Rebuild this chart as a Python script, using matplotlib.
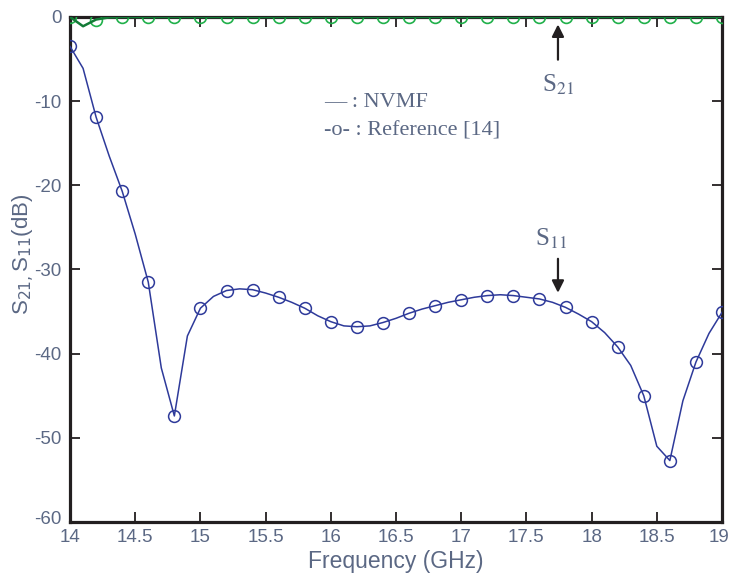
import matplotlib
matplotlib.use("Agg")
import matplotlib.pyplot as plt
import matplotlib.transforms as mtransforms
from matplotlib import font_manager

# Data
freq_ref = [14.0, 14.2, 14.4, 14.6, 14.8, 15.0, 15.2, 15.4, 15.6, 15.8, 16.0, 16.2, 16.4,
            16.6, 16.8, 17.0, 17.2, 17.4, 17.6, 17.8, 18.0, 18.2, 18.4, 18.6, 18.8, 19.0]
s11_ref = [-3.5, -11.9, -20.7, -31.5, -47.4, -34.6, -32.5, -32.4, -33.3, -34.6, -36.2, -36.8, -36.3,
           -35.2, -34.3, -33.6, -33.1, -33.1, -33.5, -34.5, -36.2, -39.2, -45.0, -52.7, -41.0, -35.1]
s21_ref = [0.0, -0.35, 0, 0, 0, 0, 0, 0, 0, 0, 0, 0, 0,
           0, 0, 0, 0, 0, 0, 0, 0, 0, 0, 0, 0, 0]

freq_nvmf = [14.0, 14.1, 14.2, 14.3, 14.4, 14.5, 14.6, 14.7, 14.8, 14.9, 15.0, 15.1, 15.2, 15.3,
             15.4, 15.5, 15.6, 15.7, 15.8, 15.9, 16.0, 16.1, 16.2, 16.3, 16.4, 16.5, 16.6, 16.7,
             16.8, 16.9, 17.0, 17.1, 17.2, 17.3, 17.4, 17.5, 17.6, 17.7, 17.8, 17.9, 18.0, 18.1,
             18.2, 18.3, 18.4, 18.5, 18.6, 18.7, 18.8, 18.9, 19.0]
s11_nvmf = [-3.5, -6.1, -11.9, -16.5, -20.7, -25.8, -31.5, -41.7, -47.4, -37.9, -34.6, -33.2, -32.5, -32.3,
            -32.4, -32.8, -33.3, -33.9, -34.6, -35.5, -36.2, -36.7, -36.8, -36.7, -36.3, -35.8, -35.2, -34.7,
            -34.3, -33.9, -33.6, -33.3, -33.1, -33.0, -33.1, -33.3, -33.5, -33.9, -34.5, -35.3, -36.2, -37.5,
            -39.2, -41.4, -45.0, -51.0, -52.7, -45.6, -41.0, -37.6, -35.1]
s21_nvmf = [0.0, -1.1, -0.3, -0.05, 0, 0, 0, 0, 0, 0, 0, 0, 0, 0,
            0, 0, 0, 0, 0, 0, 0, 0, 0, 0, 0, 0, 0, 0,
            0, 0, 0, 0, 0, 0, 0, 0, 0, 0, 0, 0, 0, 0,
            0, 0, 0, 0, 0, 0, 0, 0, 0]

xticks = [14, 14.5, 15, 15.5, 16, 16.5, 17, 17.5, 18, 18.5, 19]
xticklabels = ["14", "14.5", "15", "15.5", "16", "16.5", "17", "17.5", "18", "18.5", "19"]
yticks = [0, -10, -20, -30, -40, -50, -60]
yticklabels = ["0", "-10", "-20", "-30", "-40", "-50", "-60"]

names = {f.name for f in font_manager.fontManager.ttflist}
narrow = "Liberation Sans Narrow" if "Liberation Sans Narrow" in names else "Liberation Sans"

slate = "#5b6884"
blue = "#2e3a9a"
green_line = "#127a36"
green_mk = "#20b04a"

fig = plt.figure(figsize=(7.31, 5.78), dpi=100)
ax = fig.add_axes([0.0958, 0.0969, 0.8919, 0.8737])

ax.plot(freq_nvmf, s11_nvmf, color=blue, lw=1.1, zorder=3)
ax.plot(freq_ref, s11_ref, ls="none", marker="o", mfc="none", mec=blue, ms=8.5, mew=1.1, zorder=3)
ax.plot(freq_ref, s21_ref, ls="none", marker="o", mfc="none", mec=green_mk, ms=8.5, mew=1.2, zorder=3)
ax.plot(freq_nvmf, s21_nvmf, color=green_line, lw=1.8, zorder=4)

ax.set_xlim(14, 19)
ax.set_ylim(-60, 0)
ax.set_xticks(xticks)
ax.set_xticklabels(xticklabels)
ax.set_yticks(yticks)
ax.set_yticklabels(yticklabels)
ax.tick_params(direction="in", top=True, right=True, length=7, width=1.3, colors="#231f20",
               labelcolor=slate, labelsize=13.5)
ax.tick_params(axis="x", pad=5)
ax.tick_params(axis="y", pad=6)
for lab in ax.get_xticklabels() + ax.get_yticklabels():
    lab.set_family(narrow)
# nudge the last x label inward and the lowest y label upward, as in the reference
xl = ax.get_xticklabels()
xl[-1].set_transform(xl[-1].get_transform() + mtransforms.ScaledTranslation(-3 / 100, 0, fig.dpi_scale_trans))
yl = ax.get_yticklabels()
yl[-1].set_transform(yl[-1].get_transform() + mtransforms.ScaledTranslation(0, 4 / 100, fig.dpi_scale_trans))

for s in ax.spines.values():
    s.set_linewidth(2.3)
    s.set_color("#231f20")

ax.set_xlabel("Frequency (GHz)", fontsize=16.5, color=slate, family=narrow, labelpad=3)
ax.set_ylabel("S$_{21,}$S$_{11}$(dB)", fontsize=16, color=slate, family=narrow)
ax.yaxis.set_label_coords(-0.051, 0.53)

serif = "Liberation Serif"
ax.text(15.95, -10.1, "\u2014 : NVMF", fontsize=16, color=slate, family=serif, va="center")
ax.text(15.95, -13.5, "-o- : Reference [14]", fontsize=16, color=slate, family=serif, va="center")

ax.annotate("", xy=(17.742, -0.55), xytext=(17.742, -5.4),
            arrowprops=dict(arrowstyle="-|>", color="#231f20", lw=1.6, mutation_scale=18))
ax.text(17.742, -8.1, "S$_{21}$", fontsize=18, color=slate, family=serif, ha="center", va="center",
        math_fontfamily="stix")
ax.annotate("", xy=(17.742, -33.1), xytext=(17.742, -28.4),
            arrowprops=dict(arrowstyle="-|>", color="#231f20", lw=1.6, mutation_scale=18))
ax.text(17.69, -26.3, "S$_{11}$", fontsize=18, color=slate, family=serif, ha="center", va="center",
        math_fontfamily="stix")

fig.savefig("out.png", dpi=100)
